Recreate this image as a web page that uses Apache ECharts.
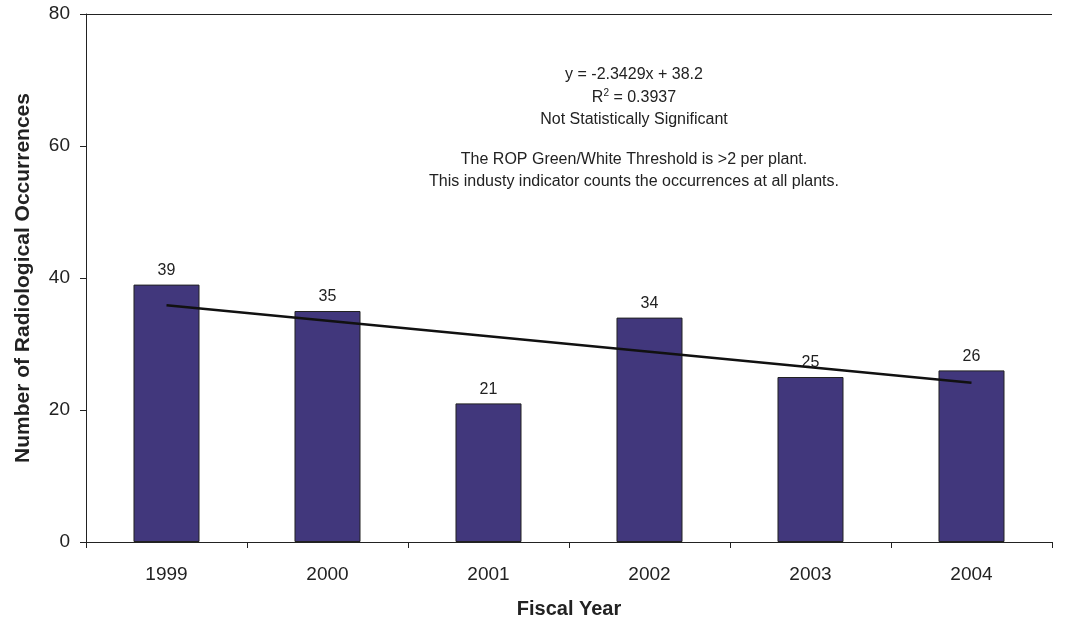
<!DOCTYPE html>
<html><head><meta charset="utf-8">
<script src="https://cdn.jsdelivr.net/npm/echarts@6/dist/echarts.min.js"></script>
<style>html,body{margin:0;padding:0;background:#fff}#c{width:1080px;height:624px}</style>
</head><body><div id="c"></div>
<script>
const categories = ['1999','2000','2001','2002','2003','2004'];
const occurrences = [39, 35, 21, 34, 25, 26];
const trendValues = [35.86, 33.51, 31.17, 28.83, 26.49, 24.14];
const yTicks = [0, 20, 40, 60, 80];
const noteLines = [
  'y = -2.3429x + 38.2',
  'R2 = 0.3937',
  'Not Statistically Significant',
  '',
  'The ROP Green/White Threshold is >2 per plant.',
  'This industy indicator counts the occurrences at all plants.'
];
const FONT = '"Liberation Sans", Arial, sans-serif';
const chart = echarts.init(document.getElementById('c'));
const noteY = [75, 98, 120, 140, 160, 182];
const graphics = noteLines.map((t, i) => {
  if (!t) return null;
  if (i === 1) {
    return {type:'text', position:[634, noteY[i]], style:{
      text:'{b|R}{s|2}{b| = 0.3937}', x:0, y:0, align:'center', verticalAlign:'middle',
      rich:{b:{fontSize:16, fontFamily:FONT, fill:'#222', lineHeight:20}, s:{fontSize:10, fontFamily:FONT, fill:'#222', verticalAlign:'top', lineHeight:20, padding:[0,0,9,0]}}
    }};
  }
  return {type:'text', position:[634, noteY[i]], style:{text:t, x:0, y:0, align:'center', verticalAlign:'middle', fontSize:16, fontFamily:FONT, fill:'#222'}};
}).filter(Boolean);

chart.setOption({
  animation:false,
  backgroundColor:'#fff',
  grid:{left:86, right:28, top:14, bottom:82, containLabel:false, outerBoundsMode:'none'},
  xAxis:{type:'category', data:categories,
    name:'Fiscal Year', nameLocation:'middle', nameGap:57,
    nameTextStyle:{fontSize:20, fontWeight:'bold', fontFamily:FONT, color:'#222'},
    axisLine:{lineStyle:{color:'#222', width:1}},
    axisTick:{show:true, length:6, inside:false, lineStyle:{color:'#222'}},
    axisLabel:{fontSize:19, fontFamily:FONT, color:'#222', margin:23}
  },
  yAxis:{type:'value', min:0, max:80, interval:20,
    name:'Number of Radiological Occurrences', nameLocation:'middle', nameGap:52, nameRotate:90,
    nameTextStyle:{fontSize:21, fontWeight:'bold', fontFamily:FONT, color:'#222'},
    axisLine:{show:true, lineStyle:{color:'#222', width:1}},
    axisTick:{show:true, length:6, lineStyle:{color:'#222'}},
    axisLabel:{fontSize:19, fontFamily:FONT, color:'#222', margin:16,
      formatter:v => yTicks.includes(v) ? String(v) : ''},
    splitLine:{show:false}
  },
  series:[
    {type:'bar', data:occurrences, barWidth:'41%',
      itemStyle:{color:'#41377C', borderColor:'#222', borderWidth:1},
      label:{show:true, position:'top', distance:6, fontSize:16, fontFamily:FONT, color:'#222'},
      markLine:{silent:true, symbol:'none', label:{show:false},
        lineStyle:{color:'#222', width:1, type:'solid'}, data:[{yAxis:80}]}
    },
    {type:'line', data:trendValues, symbol:'none', smooth:false,
      lineStyle:{color:'#111', width:2.5}, z:5}
  ],
  graphic:graphics
});
</script></body></html>
